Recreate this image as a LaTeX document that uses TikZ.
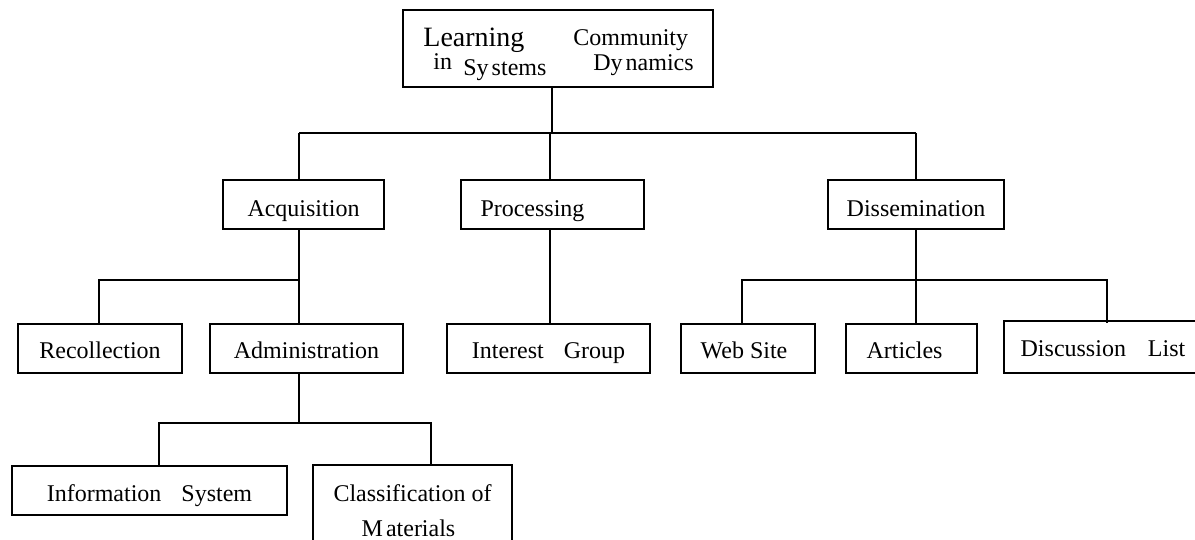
\documentclass[tikz,border=0pt]{standalone}
\usepackage{fontspec}
\setmainfont{Liberation Serif}
\usepackage{tikz}
\tikzset{
  box/.style = {draw, line width=0.7pt, inner sep=0pt, minimum height=24.5pt,
    text height=11pt, text depth=1.5pt},
  upper/.style = {text height=13.5pt, text depth=1pt},
  link/.style = {line width=0.9pt},
  word/.style = {anchor=base west, inner sep=0pt}
}
\usetikzlibrary{math}

\begin{document}
\begin{tikzpicture}[x=0.5pt, y=-0.5pt, font=\fontsize{12}{19}\selectfont]
    \tikzmath{
      \busA = 133;
      \busB = 280;
      \busC = 423;
      \rowA = 204.5;
      \rowB = 348.5;
    }
    \useasboundingbox (0,0) rectangle (1195,540);
    % root
    \node[box, minimum width=155pt, minimum height=38.5pt] (root) at (558,48.5) {};
    \node[word, font=\fontsize{14}{15}\selectfont] (learning) at (423,47) {Learning};
    \node[word] (community) at (573,46) {Community};
    \node[word] (in) at (433,70) {in};
    \node[word] (systems) at (463,76) {Sy\hspace{1.5pt}stems};
    \node[word] (dynamics) at (593,71) {Dy\hspace{1.5pt}namics};
    % first row
    \node[box, upper, minimum width=80.5pt] (acq) at (303.5,\rowA) {Acquisition};
    \node[box, upper, minimum width=91.5pt] (proc) at (552.5,\rowA) {Processing\hspace*{20pt}};
    \node[box, upper, minimum width=88pt] (diss) at (916,\rowA) {Dissemination};
    % second row
    \node[box, minimum width=82pt] (recol) at (100,\rowB) {Recollection};
    \node[box, minimum width=96.5pt] (admin) at (306.5,\rowB) {Administration};
    \node[box, minimum width=101.5pt] (interest) at (548.5,\rowB) {Interest\hspace{10pt}Group};
    \node[box, minimum width=67pt] (web) at (748,\rowB) {Web Site\hspace*{4pt}};
    \node[box, minimum width=65.5pt] (art) at (911.5,\rowB) {Articles\hspace*{7pt}};
    \node[box, minimum width=180pt, minimum height=26pt]
    (disc) at (1184,347) {Discussion\hspace{11pt}List\hspace*{81pt}};
    % third row
    \node[box, text height=12pt, text depth=1pt, minimum width=137.5pt]
    (info) at (149.5,490.5) {Information\hspace{10pt}System};
    \node[box, text height=, text depth=, minimum width=99.5pt, minimum height=46pt,
    align=center, font=\fontsize{12}{17.5}\selectfont]
    (class) at (412.5,511) {Classification of\\M\hspace{1.5pt}aterials\hspace*{4pt}};
    % root to first row
    \coordinate (jroot) at (552,\busA);
    \coordinate (jacq) at (299,\busA);
    \coordinate (jproc) at (550,\busA);
    \coordinate (jdiss) at (916,\busA);
    \draw[link] (root.south -| jroot) -- (jroot);
    \draw[link] (jacq) -- (jdiss);
    \draw[link] (jacq) -- (jacq |- acq.north);
    \draw[link] (jproc) -- (jproc |- proc.north);
    \draw[link] (jdiss) -- (jdiss |- diss.north);
    % acquisition
    \coordinate (kacq) at (299,\busB);
    \coordinate (krecol) at (99,\busB);
    \draw[link] (acq.south -| kacq) -- (kacq |- admin.north);
    \draw[link] (kacq) -- (krecol) -- (krecol |- recol.north);
    % processing
    \draw[link] (proc.south -| jproc) -- (interest.north -| jproc);
    % dissemination
    \coordinate (kdiss) at (916,\busB);
    \coordinate (kweb) at (742,\busB);
    \coordinate (kdisc) at (1107,\busB);
    \draw[link] (diss.south -| kdiss) -- (kdiss |- art.north);
    \draw[link] (kweb |- web.north) -- (kweb) -- (kdisc) -- (kdisc |- web.north);
    % administration
    \coordinate (madmin) at (299,\busC);
    \coordinate (minfo) at (159,\busC);
    \coordinate (mclass) at (431,\busC);
    \draw[link] (admin.south -| madmin) -- (madmin);
    \draw[link] (minfo |- info.north) -- (minfo) -- (mclass) -- (class.north -| mclass);
  \end{tikzpicture}
\end{document}
